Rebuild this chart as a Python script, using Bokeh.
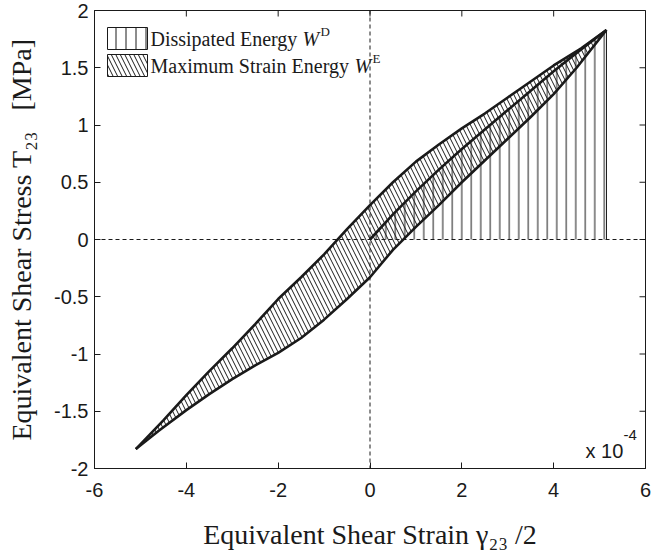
import math
from bokeh.plotting import figure
from bokeh.models import Span, Label, BoxAnnotation, FixedTicker, Range1d
from bokeh.embed import file_html
from bokeh.resources import INLINE

# Unloading (upper) branch of the hysteresis loop: from +peak to -peak
ub_x = [5.15, 4.60, 4.00, 3.50, 3.00, 2.50, 2.00, 1.50, 1.00, 0.50, 0.00, -0.50, -1.00, -1.50,
        -2.00, -2.50, -3.00, -3.50, -4.00, -4.50, -5.10]
ub_y = [1.83, 1.67, 1.52, 1.38, 1.24, 1.10, 0.97, 0.83, 0.68, 0.50, 0.30, 0.09, -0.13, -0.33,
        -0.52, -0.74, -0.95, -1.15, -1.36, -1.58, -1.83]

# Reloading (lower) branch: from -peak to +peak
lb_x = [-5.10, -4.60, -4.00, -3.50, -3.00, -2.50, -2.00, -1.50, -1.00, -0.50, 0.00, 0.50, 1.00,
        1.50, 2.00, 2.50, 3.00, 3.50, 4.00, 4.50, 5.15]
lb_y = [-1.83, -1.67, -1.49, -1.35, -1.22, -1.10, -0.99, -0.86, -0.70, -0.52, -0.33, -0.09, 0.11,
        0.30, 0.50, 0.69, 0.88, 1.07, 1.27, 1.50, 1.83]

# Loading path from origin to peak (strain energy)
vc_x = [0.00, 0.50, 1.00, 1.50, 2.00, 2.50, 3.00, 3.50, 4.00, 4.50, 5.15]
vc_y = [0.00, 0.22, 0.42, 0.61, 0.79, 0.96, 1.13, 1.30, 1.47, 1.63, 1.83]

x_ticks = [-6, -4, -2, 0, 2, 4, 6]
x_tick_labels = ["-6", "-4", "-2", "0", "2", "4", "6"]
y_ticks = [-2, -1.5, -1, -0.5, 0, 0.5, 1, 1.5, 2]
y_tick_labels = ["-2", "-1.5", "-1", "-0.5", "0", "0.5", "1", "1.5", "2"]

x_label = "Equivalent Shear Strain \u03b3\u2082\u2083\u00a0/2"
y_label = "Equivalent Shear Stress T\u2082\u2083\u00a0\u00a0\u00a0[MPa]"

INK = "#1a1a1a"

p = figure(width=653, height=558, x_range=Range1d(x_ticks[0], x_ticks[-1]),
           y_range=Range1d(y_ticks[0], y_ticks[-1]),
           output_backend="svg", toolbar_location=None,
           min_border_left=94, min_border_right=8, min_border_top=10, min_border_bottom=90)
p.grid.visible = False
p.outline_line_color = INK
p.outline_line_width = 1
p.background_fill_color = "white"

for ax, ticks, labels in ((p.xaxis[0], x_ticks, x_tick_labels), (p.yaxis[0], y_ticks, y_tick_labels)):
    ax.ticker = FixedTicker(ticks=ticks)
    ax.major_label_overrides = {t: l for t, l in zip(ticks, labels)}
    ax.major_tick_in = 6
    ax.major_tick_out = 0
    ax.minor_tick_line_color = None
    ax.axis_line_color = INK
    ax.major_tick_line_color = INK
    ax.major_label_text_font = "Liberation Sans"
    ax.major_label_text_font_size = "20px"
    ax.major_label_text_color = INK
    ax.axis_label_text_font = "Liberation Serif"
    ax.axis_label_text_font_size = "28px"
    ax.axis_label_text_font_style = "normal"
    ax.axis_label_text_color = INK
p.xaxis.axis_label = x_label
p.yaxis.axis_label = y_label
p.xaxis.major_label_standoff = 14
p.yaxis.major_label_standoff = 6
p.xaxis.axis_label_standoff = 19
p.yaxis.axis_label_standoff = 14

# inward ticks on top and right edges (half of each dash is clipped by the frame)
p.scatter(x=x_ticks, y=[y_ticks[-1]] * len(x_ticks), marker="dash", size=12, angle=math.pi / 2,
          line_color=INK, line_width=1)
p.scatter(x=[x_ticks[-1]] * len(y_ticks), y=y_ticks, marker="dash", size=12,
          line_color=INK, line_width=1)

# Hatched areas
p.varea(x=vc_x, y1=0, y2=vc_y, fill_color=None, hatch_pattern="|", hatch_scale=9.5,
        hatch_color=INK, hatch_weight=1)
loop_x = ub_x + lb_x[1:]
loop_y = ub_y + lb_y[1:]
p.patch(loop_x, loop_y, fill_color=None, line_color=None, hatch_pattern="\\",
        hatch_scale=9, hatch_color=INK, hatch_weight=1)
p.segment(x0=[vc_x[-1]], y0=[0], x1=[vc_x[-1]], y1=[vc_y[-1]], line_color=INK, line_width=1)

# zero lines
p.add_layout(Span(location=0, dimension="height", line_color=INK, line_width=1, line_dash="4 3"))
p.add_layout(Span(location=0, dimension="width", line_color=INK, line_width=1, line_dash="4 3"))

# curves
for xs, ys in ((ub_x, ub_y), (lb_x, lb_y), (vc_x, vc_y)):
    p.line(xs, ys, line_color=INK, line_width=2.6, line_join="round")


def lab(x, y, text, size, font="Liberation Serif", style="normal"):
    p.add_layout(Label(x=x, y=y, x_units="screen", y_units="screen", text=text,
                       text_font=font, text_font_size=size, text_font_style=style,
                       text_color=INK, text_align="left", text_baseline="alphabetic"))


# Legend
p.add_layout(BoxAnnotation(left=13, right=53, bottom=419, top=441,
                           left_units="screen", right_units="screen", bottom_units="screen", top_units="screen",
                           fill_color="white", fill_alpha=1, line_color=INK, line_width=1, line_alpha=1,
                           hatch_pattern="|", hatch_scale=10, hatch_color=INK, hatch_weight=1))
p.add_layout(BoxAnnotation(left=13, right=53, bottom=392, top=414,
                           left_units="screen", right_units="screen", bottom_units="screen", top_units="screen",
                           fill_color="white", fill_alpha=1, line_color=INK, line_width=1, line_alpha=1,
                           hatch_pattern="\\", hatch_scale=9, hatch_color=INK, hatch_weight=1))
lab(56, 430, "Dissipated Energy", "20px")
lab(208, 430, "W", "20px", style="italic")
lab(226, 437, "D", "13px")
lab(56, 403, "Maximum Strain Energy", "20px")
lab(260, 403, "W", "20px", style="italic")
lab(278, 410, "E", "13px")

# x 10^-4 multiplier
lab(491, 18, "x 10", "20px", font="Liberation Sans")
lab(529, 34, "-4", "15px", font="Liberation Sans")

open("out.html", "w").write(file_html(p, INLINE))
